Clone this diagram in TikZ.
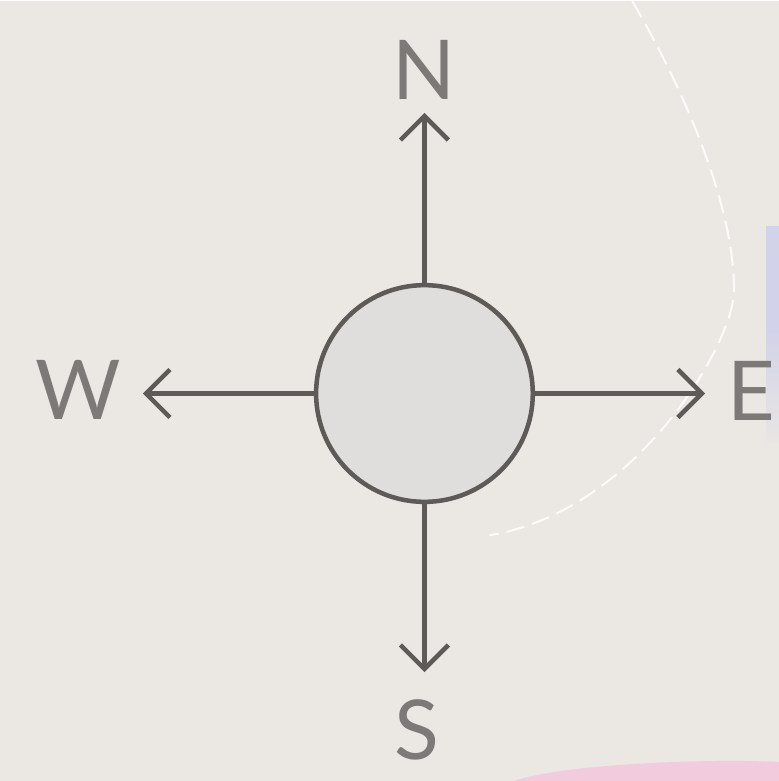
\documentclass[tikz,border=0pt]{standalone}
\usepackage{xcolor}
\usepackage{fontspec}
\setmainfont{Lato}
\usetikzlibrary{arrows.meta}

\definecolor{paper}{HTML}{EBE7E3}
\definecolor{hubfill}{HTML}{E0DEDD}
\definecolor{ink}{HTML}{5E5A58}
\definecolor{letter}{HTML}{7D7977}
\definecolor{lavender}{HTML}{D2D2EA}
\definecolor{blush}{HTML}{F2CCDD}

\tikzset{
  arr/.style={draw=ink, line width=3.4pt, -{Straight Barb[length=18pt,width=36pt,line width=3.4pt]}},
  lbl/.style={text=letter, inner sep=0pt, font=\fontsize{62}{62}\selectfont},
}

\begin{document}
\begin{tikzpicture}[x=0.75pt,y=0.75pt,yscale=-1,xscale=1]
%background, fixes the page size
\fill[paper] (0,0) rectangle (780,781);

%Shape: lavender strip at the right edge
\fill[lavender] (767,225) rectangle (780,330);
\shade[top color=lavender, bottom color=paper] (767,330) rectangle (780,450);
%Shape: pink patch at the bottom
\fill[blush] (515,781) .. controls (560,765) and (700,758) .. (780,762) -- (780,781) -- cycle ;
%Shape: dashed curve
\draw[white, opacity=0.85, line width=1.5pt, dash pattern=on 14pt off 6pt] (633,0) .. controls (680,80) and (735,200) .. (735,290) .. controls (735,340) and (640,510) .. (490,535) ;

%Shape: Circle
\draw[draw=ink, fill=hubfill, line width=3.4pt] (425,393) circle [radius=108.5];
\node[circle, minimum size=217pt*0.75, inner sep=0pt] (hub) at (425,393) {};

%arrow tips
\coordinate (nTip) at (425,112);
\coordinate (sTip) at (425,672);
\coordinate (wTip) at (143,393);
\coordinate (eTip) at (706,393);

\draw[arr] (hub.north) -- (nTip);
\draw[arr] (hub.south) -- (sTip);
\draw[arr] (hub.west) -- (wTip);
\draw[arr] (hub.east) -- (eTip);

% Text Node
\node[lbl] (nLbl) at (425,69) {N};
% Text Node
\node[lbl] (sLbl) at (417,730) {S};
% Text Node
\node[lbl] (wLbl) at (78,389) {W};
% Text Node
\node[lbl] (eLbl) at (752,390) {E};

\end{tikzpicture}
\end{document}
